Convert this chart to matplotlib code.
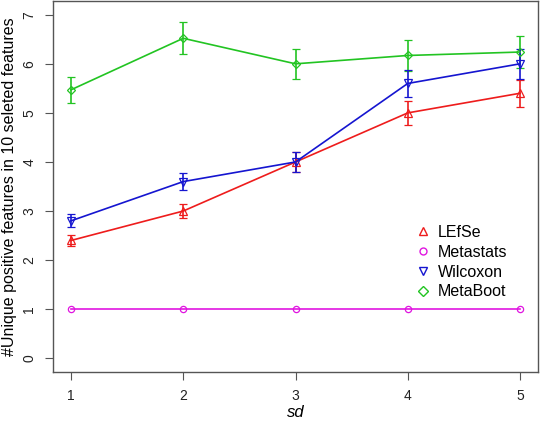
import matplotlib
matplotlib.use("Agg")
import matplotlib.pyplot as plt

plt.rcParams['font.family'] = ['Liberation Sans', 'DejaVu Sans']

sd = [1, 2, 3, 4, 5]

lefse = [2.4, 3.0, 4.0, 5.0, 5.4]
lefse_err = [0.11, 0.14, 0.2, 0.24, 0.28]
metastats = [1, 1, 1, 1, 1]
wilcoxon = [2.8, 3.6, 4.0, 5.6, 6.0]
wilcoxon_err = [0.13, 0.18, 0.2, 0.28, 0.3]
metaboot = [5.47, 6.52, 6.0, 6.17, 6.24]
metaboot_err = [0.27, 0.33, 0.3, 0.31, 0.32]

# colours close to R's red / magenta / blue / green3
c_red = '#ee1c1c'
c_mag = '#e015e0'
c_blue = '#1515d0'
c_green = '#22c422'

fig = plt.figure(figsize=(5.4, 4.22), dpi=100)
ax = fig.add_axes([53/540, 50/422, 485/540, 371/422])

kw = dict(lw=1.2, markersize=5.5, markerfacecolor='none', markeredgewidth=0.9,
          capsize=3, elinewidth=1.2, capthick=1.2)
ax.errorbar(sd, metaboot, yerr=metaboot_err, color=c_green, marker='D', **{**kw, 'markersize': 4.5})
ax.errorbar(sd, lefse, yerr=lefse_err, color=c_red, marker='^', **kw)
ax.errorbar(sd, wilcoxon, yerr=wilcoxon_err, color=c_blue, marker='v', **kw)
ax.plot(sd, metastats, color=c_mag, marker='o', lw=1.2, markersize=4.5,
        markerfacecolor='none', markeredgewidth=0.9)

ax.set_xlim(0.84, 5.16)
ax.set_ylim(-0.28, 7.28)
ax.set_xticks(sd)
ax.set_yticks(range(0, 8))
for lab in ax.get_yticklabels():
    lab.set_rotation(90)
    lab.set_va('center')
ax.tick_params(direction='out', length=6, width=0.8, color='#555555',
               labelsize=10, labelcolor='#222222', pad=6)
for s in ax.spines.values():
    s.set_color('#555555')
    s.set_linewidth(1.0)

ax.set_xlabel('sd', style='italic', fontsize=12, labelpad=2)
ax.set_ylabel('#Unique positive features in 10 seleted features', fontsize=11.5, labelpad=4)

# legend (no frame)
h = [plt.Line2D([], [], ls='none', marker='^', color=c_red, mfc='none', ms=6),
     plt.Line2D([], [], ls='none', marker='o', color=c_mag, mfc='none', ms=5),
     plt.Line2D([], [], ls='none', marker='v', color=c_blue, mfc='none', ms=6),
     plt.Line2D([], [], ls='none', marker='D', color=c_green, mfc='none', ms=5)]
ax.legend(h, ['LEfSe', 'Metastats', 'Wilcoxon', 'MetaBoot'], loc='upper left',
          bbox_to_anchor=(0.746, 0.396), frameon=False, fontsize=11.5,
          borderaxespad=0, borderpad=0,
          handlelength=1.0, handletextpad=0.45, labelspacing=0.3)

fig.savefig('out.png', dpi=100)
